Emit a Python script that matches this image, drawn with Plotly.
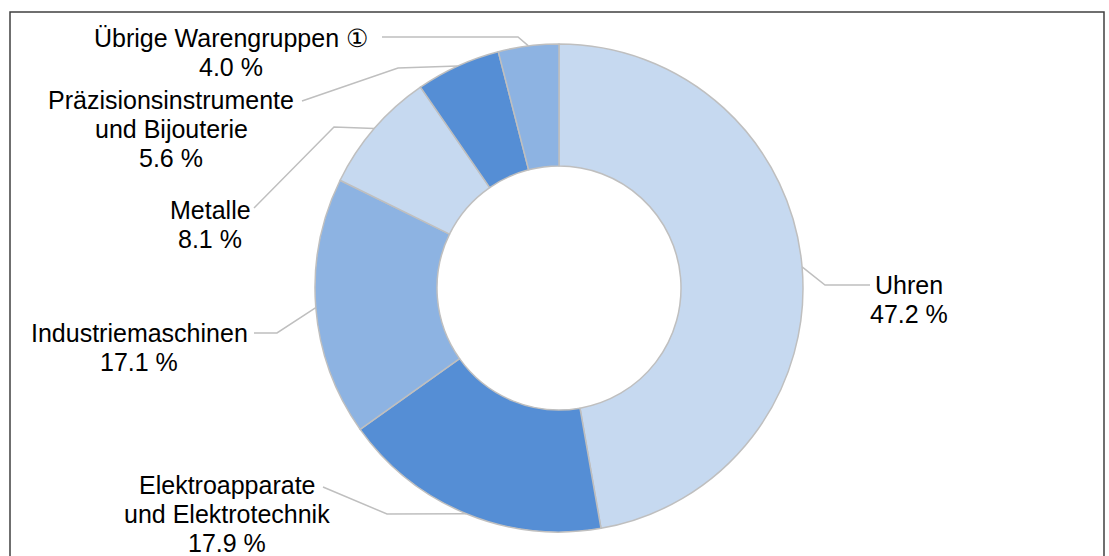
"""Donut chart of export shares by product group, labels with leader lines."""

import math
import plotly.graph_objects as go

# data (clockwise from 12 o'clock)
categories = ["Uhren", "Elektroapparate\nund Elektrotechnik", "Industriemaschinen",
              "Metalle", "Präzisionsinstrumente\nund Bijouterie", "Übrige Warengruppen ①"]
shares = [47.2, 17.9, 17.1, 8.1, 5.6, 4.0]
colors = ["#c6d9f0", "#558ed5", "#8db3e2", "#c6d9f0", "#558ed5", "#8db3e2"]

W, H = 1109, 556
CX, CY, R = 559, 288, 244          # donut centre and outer radius, page px
LINE_H = 29                        # label line spacing, px

# label layout in page px: text centre x, centre y of first line, leader elbow, leader end
label_pos = [
    (909, 285, (825, 285), (870, 285)),
    (227, 485, (387, 514), (323, 487)),
    (139, 333, (277, 333), (254, 333)),
    (210, 210, (334, 127), (254, 208)),
    (171, 100, (398, 68), (302, 101)),
    (231, 38, (518, 37), (382, 37)),
]


def px(x):
    return x / W


def py(y):
    return 1 - y / H


fig = go.Figure()
fig.add_trace(go.Pie(
    labels=[c.replace("\n", " ") for c in categories],
    values=shares,
    sort=False,
    direction="clockwise",
    rotation=0,
    hole=0.5,
    textinfo="none",
    hoverinfo="skip",
    showlegend=False,
    marker=dict(colors=colors, line=dict(color="#bfbfbf", width=1.5)),
    domain=dict(x=[px(CX - R), px(CX + R)], y=[py(CY + R), py(CY - R)]),
))

annotations = []
shapes = [dict(type="rect", xref="paper", yref="paper",
               x0=px(10), x1=px(1104), y0=-0.05, y1=py(12),
               line=dict(color="#404040", width=1.5))]

total = sum(shares)
cum = 0.0
for name, val, (tx, ty, elbow, end) in zip(categories, shares, label_pos):
    # anchor on the outer edge at the slice's middle angle
    ang = 2 * math.pi * (cum + val / 2) / total
    cum += val
    ax = CX + R * math.sin(ang)
    ay = CY - R * math.cos(ang)
    shapes.append(dict(
        type="path", xref="paper", yref="paper",
        path=f"M {px(ax)},{py(ay)} L {px(elbow[0])},{py(elbow[1])} L {px(end[0])},{py(end[1])}",
        line=dict(color="#bfbfbf", width=1.5),
    ))
    lines = name.split("\n") + [f"{val:.1f} %"]
    for i, line in enumerate(lines):
        annotations.append(dict(
            x=px(tx), y=py(ty + i * LINE_H), xref="paper", yref="paper",
            text=line, showarrow=False, xanchor="center", yanchor="middle",
            font=dict(family="Liberation Sans, Arial, sans-serif", size=25, color="black"),
        ))

fig.update_layout(
    width=W, height=H,
    margin=dict(l=0, r=0, t=0, b=0),
    paper_bgcolor="white",
    plot_bgcolor="white",
    shapes=shapes,
    annotations=annotations,
)

# the page's default 8px body margin would shift the figure; drop it
fig.write_html("out.html", config={"displayModeBar": False},
               post_script="document.body.style.margin='0';"
                           "document.documentElement.style.overflow='hidden';")
